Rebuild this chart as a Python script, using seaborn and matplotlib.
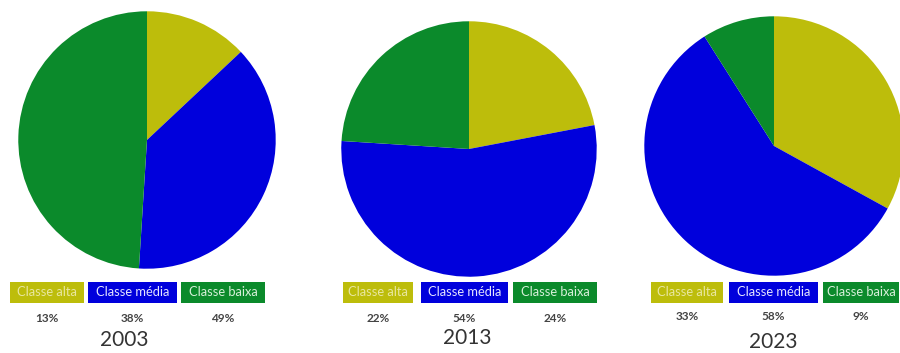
import matplotlib
matplotlib.use("Agg")
import matplotlib.pyplot as plt
from matplotlib.patches import Rectangle
import seaborn as sns

# Share of each social class, per year
years = ["2003", "2013", "2023"]
categories = ["Classe alta", "Classe média", "Classe baixa"]
shares_2003 = [13, 38, 49]
shares_2013 = [22, 54, 24]
shares_2023 = [33, 58, 9]
shares = [shares_2003, shares_2013, shares_2023]

class_colors = ["#BDBD0B", "#0000DC", "#0B8A2B"]
label_text_colors = ["#E9E7A0", "#E6E6FF", "#D8F0DA"]

sns.set_theme(style="white")
plt.rcParams["font.family"] = ["Lato", "DejaVu Sans"]

W, H = 900, 353
fig = plt.figure(figsize=(W / 100, H / 100), dpi=100)
fig.patch.set_facecolor("white")

# Layout in pixels (top-left origin): pie centre/radius, legend boxes, text rows
pie_geom = [(147, 140, 130), (469, 149, 129), (774, 146, 131)]
box_spans = [
    [(10, 84), (88, 177), (181, 265)],
    [(343, 413), (421, 508), (513, 597)],
    [(651, 723), (729, 818), (823, 899)],
]
box_top, box_bottom = 282, 303
pct_y = [318, 319, 316]
year_pos = [(124, 340), (467, 338), (773, 342)]


def fx(px):
    return px / W


def fy(py):
    return 1 - py / H


for i, year in enumerate(years):
    cx, cy, r = pie_geom[i]
    ax = fig.add_axes([fx(cx - r), fy(cy + r), 2 * r / W, 2 * r / H])
    ax.pie(shares[i], colors=class_colors, startangle=90, counterclock=False,
           radius=1, wedgeprops=dict(linewidth=0))
    ax.set_xlim(-1.01, 1.01)
    ax.set_ylim(-1.01, 1.01)
    ax.set_aspect("equal")
    ax.axis("off")

    for j, cat in enumerate(categories):
        x0, x1 = box_spans[i][j]
        fig.patches.append(Rectangle((fx(x0), fy(box_bottom)), (x1 - x0) / W,
                                     (box_bottom - box_top) / H,
                                     transform=fig.transFigure,
                                     facecolor=class_colors[j], edgecolor="none"))
        fig.text(fx((x0 + x1) / 2), fy((box_top + box_bottom) / 2), cat,
                 ha="center", va="center", fontsize=9.3,
                 color=label_text_colors[j])
        fig.text(fx((x0 + x1) / 2), fy(pct_y[i]), f"{shares[i][j]}%",
                 ha="center", va="center", fontsize=8.5, fontweight="bold",
                 color="#444444")

    yx, yy = year_pos[i]
    fig.text(fx(yx), fy(yy), year, ha="center", va="center",
             fontsize=15, color="#333333")

fig.savefig("out.png", dpi=100, facecolor="white")
